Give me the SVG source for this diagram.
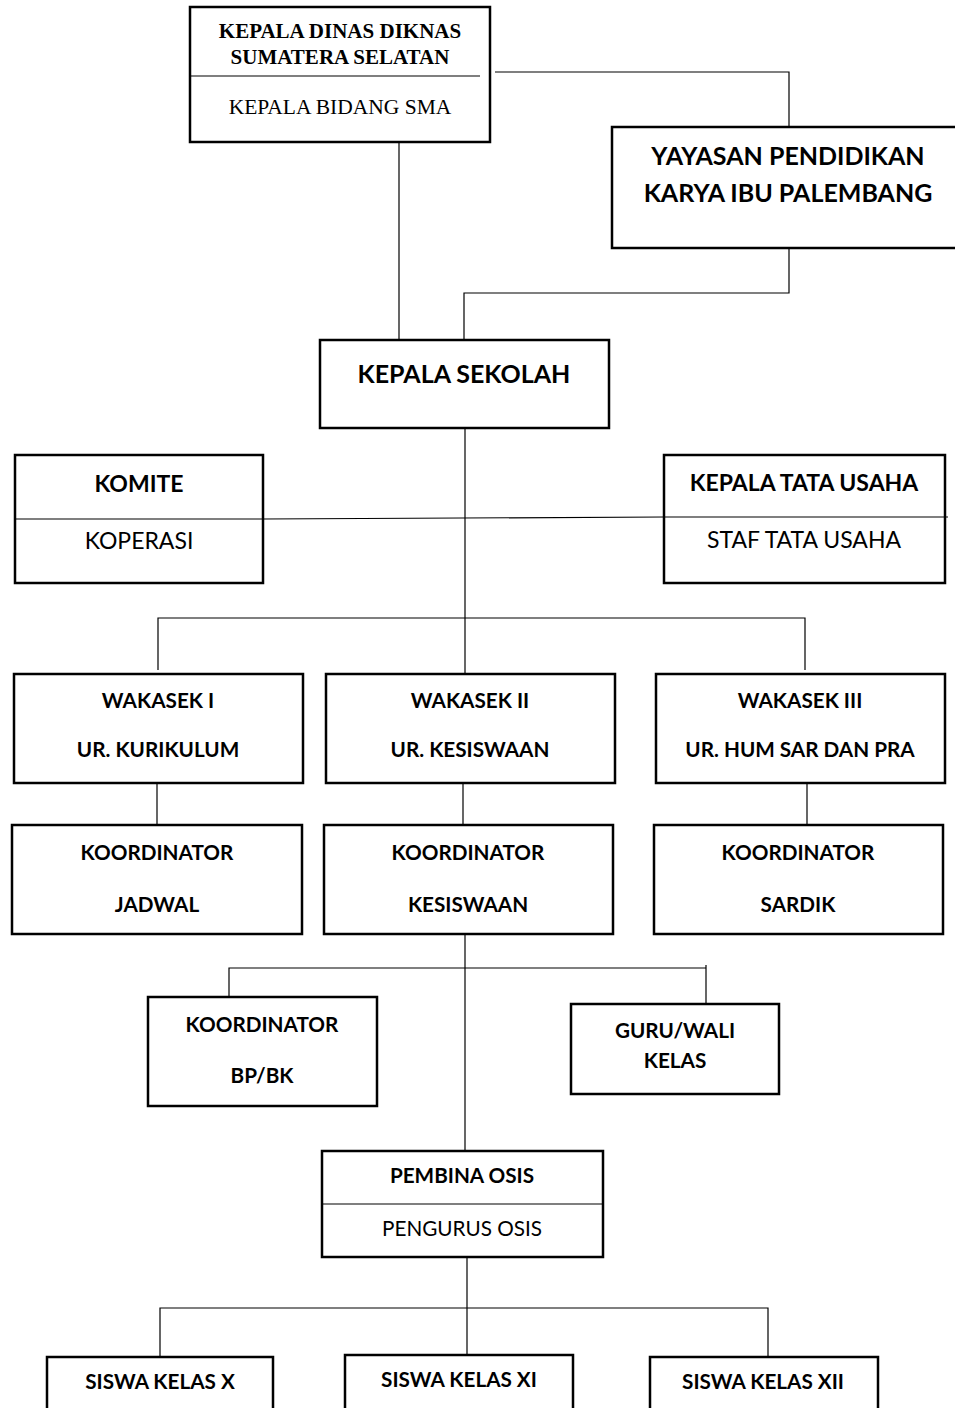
<svg xmlns="http://www.w3.org/2000/svg" width="955" height="1408" viewBox="0 0 955 1408">
<style>
.box{fill:#fff;stroke:#000;stroke-width:2.5}
.div{stroke:#000;stroke-width:1.2;fill:none}
.con{stroke:#000;stroke-width:1.2;fill:none}
.tb{font-family:Lato,"Liberation Sans",sans-serif;font-weight:bold;font-size:20.7px;text-anchor:middle;fill:#000}
.tr{font-family:Lato,"Liberation Sans",sans-serif;font-size:20.7px;text-anchor:middle;fill:#000}
.mid{font-size:23px}
.big{font-size:25px}
.tnb{font-family:"Liberation Serif",serif;font-weight:bold;font-size:21px;text-anchor:middle;fill:#000}
.tnr{font-family:"Liberation Serif",serif;font-size:21.5px;text-anchor:middle;fill:#000}
</style>
<rect width="955" height="1408" fill="#fff"/>
<g id="connectors">
<path class="con" d="M495 72 H789 V127"/>
<path class="con" d="M399 142 V340"/>
<path class="con" d="M789 248 V293 H464 V340"/>
<path class="con" d="M465 428 V674"/>
<path class="con" d="M263 519 L664 517"/>
<path class="con" d="M158 670 V618 H805 V670"/>
<path class="con" d="M157 783 V825"/>
<path class="con" d="M463 783 V825"/>
<path class="con" d="M807 783 V825"/>
<path class="con" d="M465 934 V1151"/>
<path class="con" d="M229 997 V968 H706"/>
<path class="con" d="M706 965 V1004"/>
<path class="con" d="M467 1257 V1362"/>
<path class="con" d="M160 1357 V1308 H768 V1357"/>
</g>
<g id="kepala-dinas">
<rect class="box" x="190" y="7" width="300" height="135"/>
<line class="div" x1="190" y1="76" x2="480" y2="76"/>
<text class="tnb" x="340" y="38">KEPALA DINAS DIKNAS</text>
<text class="tnb" x="340" y="64">SUMATERA SELATAN</text>
<text class="tnr" x="340" y="114">KEPALA BIDANG SMA</text>
</g>
<g id="yayasan">
<rect class="box" x="612" y="127" width="360" height="121"/>
<text class="tb big" x="788" y="165">YAYASAN PENDIDIKAN</text>
<text class="tb big" x="788" y="202">KARYA IBU PALEMBANG</text>
</g>
<g id="kepala-sekolah">
<rect class="box" x="320" y="340" width="289" height="88"/>
<text class="tb big" x="464" y="383">KEPALA SEKOLAH</text>
</g>
<g id="komite">
<rect class="box" x="15" y="455" width="248" height="128"/>
<line class="div" x1="15" y1="519" x2="263" y2="519"/>
<text class="tb mid" x="139" y="492">KOMITE</text>
<text class="tr mid" x="139" y="549">KOPERASI</text>
</g>
<g id="kepala-tu">
<rect class="box" x="664" y="455" width="281" height="128"/>
<line class="div" x1="664" y1="517" x2="948" y2="517"/>
<text class="tb mid" x="804" y="491">KEPALA TATA USAHA</text>
<text class="tr mid" x="804" y="548">STAF TATA USAHA</text>
</g>
<g id="wakasek-1">
<rect class="box" x="14" y="674" width="289" height="109"/>
<text class="tb" x="158" y="708">WAKASEK I</text>
<text class="tb" x="158" y="757">UR. KURIKULUM</text>
</g>
<g id="wakasek-2">
<rect class="box" x="326" y="674" width="289" height="109"/>
<text class="tb" x="470" y="708">WAKASEK II</text>
<text class="tb" x="470" y="757">UR. KESISWAAN</text>
</g>
<g id="wakasek-3">
<rect class="box" x="656" y="674" width="289" height="109"/>
<text class="tb" x="800" y="708">WAKASEK III</text>
<text class="tb" x="800" y="757">UR. HUM SAR DAN PRA</text>
</g>
<g id="koord-jadwal">
<rect class="box" x="12" y="825" width="290" height="109"/>
<text class="tb" x="157" y="860">KOORDINATOR</text>
<text class="tb" x="157" y="912">JADWAL</text>
</g>
<g id="koord-kesiswaan">
<rect class="box" x="324" y="825" width="289" height="109"/>
<text class="tb" x="468" y="860">KOORDINATOR</text>
<text class="tb" x="468" y="912">KESISWAAN</text>
</g>
<g id="koord-sardik">
<rect class="box" x="654" y="825" width="289" height="109"/>
<text class="tb" x="798" y="860">KOORDINATOR</text>
<text class="tb" x="798" y="912">SARDIK</text>
</g>
<g id="koord-bpbk">
<rect class="box" x="148" y="997" width="229" height="109"/>
<text class="tb" x="262" y="1032">KOORDINATOR</text>
<text class="tb" x="262" y="1083">BP/BK</text>
</g>
<g id="guru-wali">
<rect class="box" x="571" y="1004" width="208" height="90"/>
<text class="tb" x="675" y="1038">GURU/WALI</text>
<text class="tb" x="675" y="1068">KELAS</text>
</g>
<g id="pembina-osis">
<rect class="box" x="322" y="1151" width="281" height="106"/>
<line class="div" x1="322" y1="1204" x2="603" y2="1204"/>
<text class="tb" x="462" y="1183">PEMBINA OSIS</text>
<text class="tr" x="462" y="1236">PENGURUS OSIS</text>
</g>
<g id="siswa-x">
<rect class="box" x="47" y="1357" width="226" height="80"/>
<text class="tb" x="160" y="1389">SISWA KELAS X</text>
</g>
<g id="siswa-xi">
<rect class="box" x="345" y="1355" width="228" height="80"/>
<text class="tb" x="459" y="1387">SISWA KELAS XI</text>
</g>
<g id="siswa-xii">
<rect class="box" x="650" y="1357" width="228" height="80"/>
<text class="tb" x="763" y="1389">SISWA KELAS XII</text>
</g>
</svg>
